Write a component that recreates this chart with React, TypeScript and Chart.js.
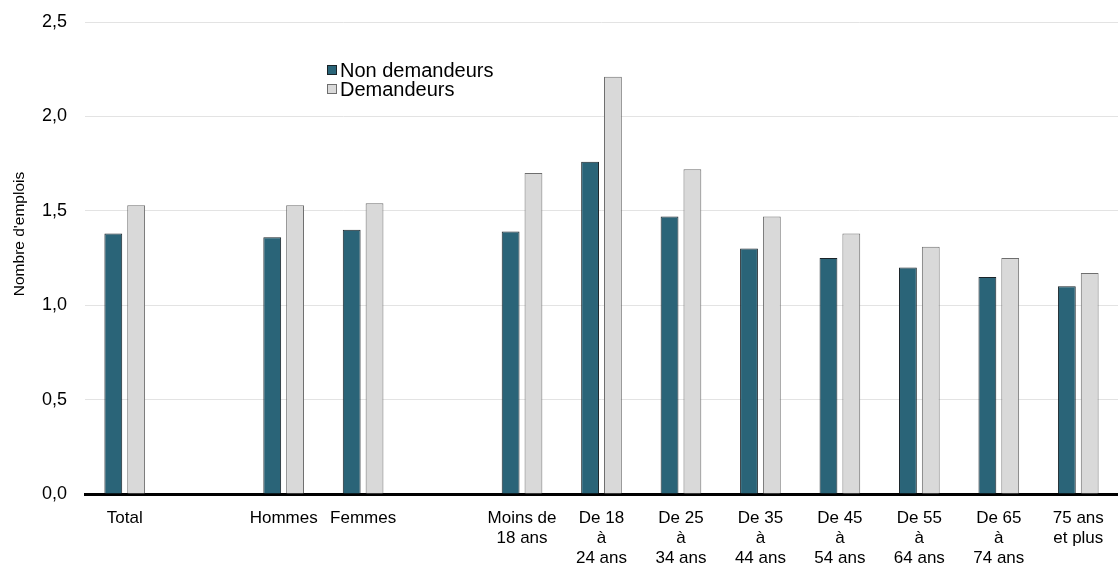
import React, { useEffect, useRef } from "react";
import { Chart, registerables } from "chart.js";

Chart.register(...registerables);

const categories: (string | string[])[] = [
  "Total",
  "",
  "Hommes",
  "Femmes",
  "",
  ["Moins de", "18 ans"],
  ["De 18", "à", "24 ans"],
  ["De 25", "à", "34 ans"],
  ["De 35", "à", "44 ans"],
  ["De 45", "à", "54 ans"],
  ["De 55", "à", "64 ans"],
  ["De 65", "à", "74 ans"],
  ["75 ans", "et plus"],
];

const nonDemandeurs: (number | null)[] = [1.38, null, 1.36, 1.4, null, 1.39, 1.76, 1.47, 1.3, 1.25, 1.2, 1.15, 1.1];
const demandeurs: (number | null)[] = [1.53, null, 1.53, 1.54, null, 1.7, 2.21, 1.72, 1.47, 1.38, 1.31, 1.25, 1.17];

const seriesLabels = ["Non demandeurs", "Demandeurs"];
const yTicks = [0, 0.5, 1, 1.5, 2, 2.5];
const yTitle = "Nombre d'emplois";

const FONT = "'Liberation Sans', Arial, sans-serif";
const TEAL = "#2A6478";
const GRAY = "#D9D9D9";

const legendPlugin = {
  id: "customLegend",
  afterDraw(chart: any) {
    const ctx = chart.ctx;
    const items = chart.data.datasets;
    ctx.save();
    ctx.font = `20px ${FONT}`;
    ctx.textBaseline = "middle";
    items.forEach((ds: any, i: number) => {
      const y = 70 + i * 19;
      ctx.fillStyle = ds.backgroundColor;
      ctx.strokeStyle = ds.borderColor;
      ctx.lineWidth = 1;
      ctx.fillRect(327.5, y - 4.5, 9, 9);
      ctx.strokeRect(327.5, y - 4.5, 9, 9);
      ctx.fillStyle = "#000";
      ctx.fillText(ds.label, 340, y + 1);
    });
    // y-axis title
    ctx.font = `15.5px ${FONT}`;
    ctx.translate(20, 234);
    ctx.rotate(-Math.PI / 2);
    ctx.textAlign = "center";
    ctx.textBaseline = "middle";
    ctx.fillText(yTitle, 0, 0);
    ctx.restore();
  },
};

export default function App() {
  const ref = useRef<HTMLCanvasElement>(null);
  useEffect(() => {
    if (!ref.current) return;
    const chart = new Chart(ref.current, {
      type: "bar",
      data: {
        labels: categories,
        datasets: [
          {
            label: seriesLabels[0],
            data: nonDemandeurs,
            backgroundColor: TEAL,
            borderColor: "#1A2328",
            borderWidth: 1,
            categoryPercentage: 0.575,
            barPercentage: 0.78,
          },
          {
            label: seriesLabels[1],
            data: demandeurs,
            backgroundColor: GRAY,
            borderColor: "#6E6E6E",
            borderWidth: 1,
            categoryPercentage: 0.575,
            barPercentage: 0.78,
          },
        ],
      },
      options: {
        responsive: false,
        animation: false,
        layout: { padding: { top: 22, left: 0, right: 0, bottom: 0 } },
        plugins: {
          legend: { display: false },
          tooltip: { enabled: false },
        },
        scales: {
          x: {
            grid: { display: false, drawTicks: false },
            border: { display: true, color: "#000", width: 3 },
            ticks: {
              color: "#000",
              font: { family: FONT, size: 17, lineHeight: 1.15 },
              padding: 15,
              maxRotation: 0,
              autoSkip: false,
            },
            afterFit: (s: any) => {
              s.height = 73;
              s.paddingLeft = 0;
              s.paddingRight = 0;
            },
          },
          y: {
            min: 0,
            max: 2.5,
            afterBuildTicks: (s: any) => {
              s.ticks = yTicks.map((v) => ({ value: v }));
            },
            grid: {
              drawTicks: false,
              color: (c: any) => (c.tick && c.tick.value === 0 ? "rgba(0,0,0,0)" : "#E3E3E3"),
              lineWidth: 1,
            },
            border: { display: false },
            ticks: {
              color: "#000",
              font: { family: FONT, size: 18 },
              padding: 18,
              callback: (v: any) => Number(v).toFixed(1).replace(".", ","),
            },
            afterFit: (s: any) => {
              s.width = 85;
              s.paddingTop = 0;
              s.paddingBottom = 0;
            },
          },
        },
      },
      plugins: [legendPlugin],
    });
    return () => chart.destroy();
  }, []);
  return (
    <div style={{ position: "fixed", left: 0, top: 0, width: 1118, height: 567, background: "#fff" }}>
      <canvas ref={ref} width={1118} height={567} />
    </div>
  );
}
